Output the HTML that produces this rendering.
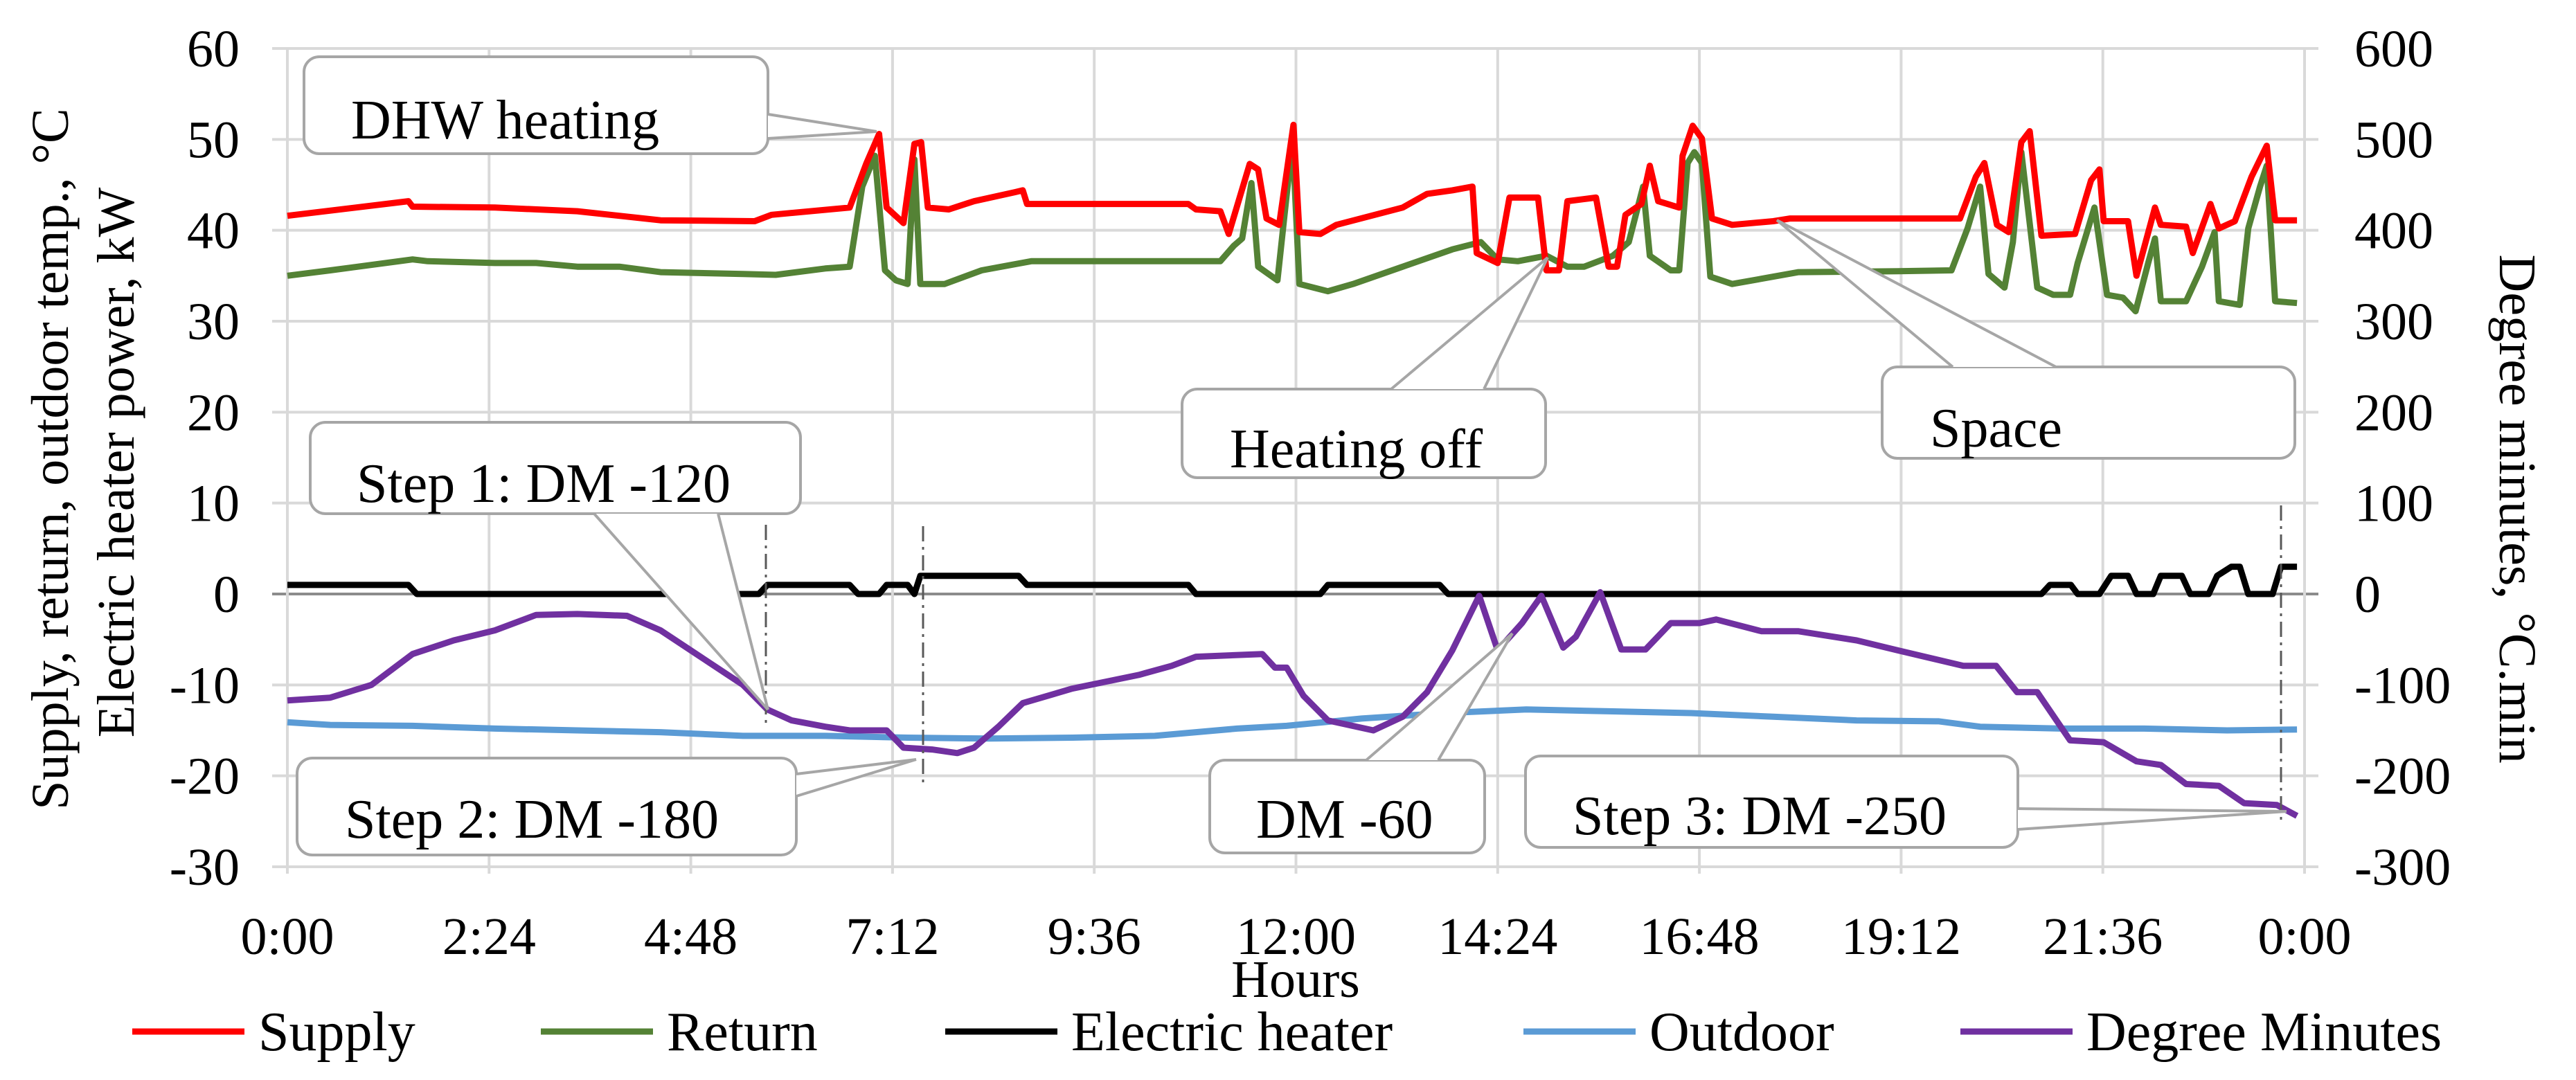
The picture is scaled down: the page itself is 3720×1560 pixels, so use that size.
<!DOCTYPE html>
<html><head><meta charset="utf-8"><style>
html,body{margin:0;padding:0;background:#fff;}
svg{display:block;}
svg text{font-family:"Liberation Serif","DejaVu Serif",serif;}
</style></head><body>
<svg id="chart" width="3720" height="1560" viewBox="0 0 3720 1560" xmlns="http://www.w3.org/2000/svg" font-family="Liberation Serif, serif">
<rect width="3720" height="1560" fill="#fff"/>
<g id="grid"></g>
<g id="series"></g>
<g id="notes"></g>
<g id="axes"></g>
</svg>
<script>
const supplyT=[0,1.44,1.49,2.47,3.45,4.44,5.56,5.76,6.69,6.89,7.04,7.13,7.33,7.46,7.54,7.62,7.87,8.17,8.66,8.75,8.8,10.72,10.81,11.1,11.2,11.45,11.55,11.65,11.8,11.97,12.04,12.29,12.48,13.27,13.56,13.86,14.1,14.15,14.4,14.54,14.88,14.98,15.13,15.23,15.57,15.72,15.82,15.92,16.11,16.21,16.31,16.56,16.6,16.72,16.83,16.95,17.19,17.68,17.88,19.9,20.09,20.19,20.34,20.48,20.63,20.73,20.87,21.27,21.46,21.56,21.61,21.9,22.0,22.22,22.29,22.59,22.67,22.88,22.98,23.17,23.37,23.55,23.65,23.91];
const supplyV=[41.6,43.2,42.6,42.5,42.1,41.1,41,41.7,42.5,47.4,50.6,42.5,40.8,49.5,49.7,42.5,42.3,43.2,44.2,44.4,42.9,42.9,42.3,42.1,39.6,47.3,46.7,41.3,40.6,51.6,39.8,39.6,40.6,42.5,44,44.4,44.8,37.5,36.4,43.6,43.6,35.6,35.6,43.2,43.6,36,36,41.7,42.9,47.1,43.2,42.5,48.2,51.5,50.1,41.3,40.6,41,41.3,41.3,45.9,47.4,40.6,39.8,49.7,50.9,39.4,39.6,45.5,46.7,41,41,35,42.5,40.6,40.4,37.5,42.9,40.2,41,45.9,49.3,41.1,41.1];
const returnT=[0,0.51,1.49,1.67,2.47,2.96,3.45,3.95,4.44,5.42,5.81,6.4,6.69,6.84,6.99,7.11,7.24,7.38,7.46,7.53,7.82,8.26,8.85,9.34,10.32,11.1,11.26,11.36,11.47,11.55,11.78,11.96,12.04,12.38,12.68,13.27,13.86,14.2,14.4,14.64,14.98,15.23,15.43,15.77,15.96,16.13,16.21,16.46,16.56,16.66,16.74,16.83,16.93,17.19,17.68,17.98,19.16,19.8,19.99,20.14,20.24,20.43,20.53,20.63,20.82,21.01,21.21,21.3,21.5,21.65,21.84,21.99,22.14,22.22,22.29,22.59,22.78,22.93,22.98,23.23,23.33,23.47,23.55,23.65,23.91];
const returnV=[35,35.6,36.8,36.6,36.4,36.4,36,36,35.4,35.2,35.1,35.8,36,44.8,48.2,35.6,34.5,34.1,47.8,34.1,34.1,35.6,36.6,36.6,36.6,36.6,38.3,39.1,45.2,36,34.5,49.9,34.1,33.3,34.1,36,37.9,38.7,36.8,36.6,37.2,36,36,37.2,38.7,44.8,37.2,35.6,35.6,47.4,48.6,47.4,34.9,34.1,34.9,35.4,35.5,35.6,40.2,44.8,35.2,33.7,38.7,48.6,33.7,32.9,32.9,36.4,42.5,32.9,32.6,31.1,36.4,39.1,32.2,32.2,36,39.8,32.2,31.8,40.2,44.8,47.1,32.2,32];
const heaterT=[0,1.44,1.54,5.61,5.71,6.69,6.79,7.04,7.13,7.38,7.46,7.53,8.7,8.8,10.72,10.81,12.29,12.38,13.71,13.81,20.87,20.97,21.22,21.3,21.56,21.7,21.9,22.0,22.2,22.29,22.54,22.64,22.86,22.96,23.13,23.23,23.33,23.62,23.72,23.91];
const heaterV=[1,1,0,0,1,1,0,0,1,1,0,2,2,1,1,0,0,1,1,0,0,1,1,0,0,2,2,0,0,2,2,0,0,2,3,3,0,0,3,3];
const outdoorT=[0,0.51,1.49,2.47,3.45,4.44,5.42,6.4,7.38,8.36,9.34,10.32,11.3,11.89,12.78,13.76,14.74,15.72,16.7,17.68,18.67,19.65,20.14,21.11,22.09,23.08,23.91];
const outdoorV=[-14.1,-14.4,-14.5,-14.8,-15.0,-15.2,-15.6,-15.6,-15.8,-15.9,-15.8,-15.6,-14.8,-14.5,-13.7,-13.1,-12.7,-12.9,-13.1,-13.5,-13.9,-14.0,-14.6,-14.8,-14.8,-15.0,-14.9];
const dmT=[0,0.51,1.0,1.49,1.98,2.47,2.96,3.45,4.04,4.44,4.93,5.42,5.71,6.0,6.4,6.69,7.13,7.33,7.67,7.97,8.17,8.46,8.75,9.34,10.13,10.52,10.81,11.6,11.75,11.89,12.09,12.38,12.92,13.27,13.56,13.86,14.18,14.4,14.69,14.92,15.18,15.33,15.62,15.87,16.16,16.46,16.8,17.0,17.54,17.98,18.67,19.16,19.94,20.33,20.58,20.82,21.21,21.61,22.0,22.29,22.59,22.98,23.28,23.67,23.91];
const dmV=[-117,-114,-100,-66,-51,-40,-23,-22,-24,-40,-70,-100,-127,-139,-146,-150,-150,-169,-171,-175,-169,-146,-120,-104,-89,-79,-69,-66,-81,-81,-112,-139,-150,-135,-108,-62,-2,-62,-32,-2,-59,-47,2,-61,-61,-32,-32,-28,-41,-41,-51,-62,-79,-79,-108,-108,-161,-163,-184,-188,-209,-211,-230,-232,-244];
const leftTicks=[60,50,40,30,20,10,0,-10,-20,-30];
const rightTicks=[600,500,400,300,200,100,0,-100,-200,-300];
const xTickLabels=["0:00","2:24","4:48","7:12","9:36","12:00","14:24","16:48","19:12","21:36","0:00"];

const NS="http://www.w3.org/2000/svg";
const FONT='"Liberation Serif", "DejaVu Serif", serif';
const X0=415,X1=3328,YT=70,YB=1252;
const xs=h=>X0+(X1-X0)*h/24;
const yL=v=>YT+(60-v)*(YB-YT)/90;
const yR=v=>YT+(600-v)*(YB-YT)/900;
function mk(tag,attrs,parent,txt){const e=document.createElementNS(NS,tag);for(const k in attrs)e.setAttribute(k,attrs[k]);if(txt!==undefined){e.textContent=txt;e.setAttribute('font-family',FONT);}parent.appendChild(e);return e;}
const grid=document.getElementById('grid'),axes=document.getElementById('axes'),ser=document.getElementById('series'),notes=document.getElementById('notes');

for(let i=0;i<leftTicks.length;i++){
  const y=yL(leftTicks[i]);
  const l=mk('line',{x1:393,x2:3348,y1:y,y2:y,stroke:leftTicks[i]===0?'#8c8c8c':'#d9d9d9','stroke-width':4},grid);
  
  
  const t=mk('text',{x:346,y:y+26,'text-anchor':'end','font-size':76},axes,String(leftTicks[i]));
  
  
  const r=mk('text',{x:3400,y:yR(rightTicks[i])+26,'font-size':76},axes,String(rightTicks[i]));
  
  
}
for(let i=0;i<xTickLabels.length;i++){
  const x=xs(i*2.4);
  const l=mk('line',{x1:x,x2:x,y1:YT,y2:YB+10,stroke:'#d9d9d9','stroke-width':4},grid);
  
  
  const t=mk('text',{x:x,y:1378,'text-anchor':'middle','font-size':76},axes,xTickLabels[i]);
  
  
}
function line(T,V,yf,color,name){
  let d='';
  for(let i=0;i<T.length;i++){d+=(i?'L':'M')+xs(T[i]).toFixed(1)+','+yf(V[i]).toFixed(1);}
  const p=mk('path',{d:d,fill:'none',stroke:color,'stroke-width':9,'stroke-linejoin':'round'},ser);
  
  
}
line(outdoorT,outdoorV,yL,'#5b9bd5','outdoor-line');
line(heaterT,heaterV,yL,'#000000','electric-heater-line');
line(dmT,dmV,yR,'#7030a0','degree-minutes-line');
line(returnT,returnV,yL,'#548235','return-line');
line(supplyT,supplyV,yL,'#ff0000','supply-line');

[[1106,758,1045],[1333,760,1130],[3294,730,1185]].forEach(a=>{
  const l=mk('line',{x1:a[0],x2:a[0],y1:a[1],y2:a[2],stroke:'#595959','stroke-width':3,'stroke-dasharray':'22,8,4,8'},notes);
  
  
});
function callout(name,bx,by,bw,bh,p1,p2,tip,text,tx,ty){
  const g=mk('g',{},notes);
  
  
  mk('rect',{x:bx,y:by,width:bw,height:bh,rx:22,fill:'#fff',stroke:'#a6a6a6','stroke-width':4},g);
  mk('polygon',{points:p1[0]+','+p1[1]+' '+tip[0]+','+tip[1]+' '+p2[0]+','+p2[1],fill:'#fff',stroke:'none'},g);
  mk('line',{x1:p1[0],y1:p1[1],x2:tip[0],y2:tip[1],stroke:'#a6a6a6','stroke-width':4},g);
  mk('line',{x1:p2[0],y1:p2[1],x2:tip[0],y2:tip[1],stroke:'#a6a6a6','stroke-width':4},g);
  mk('text',{x:tx,y:ty,'font-size':80},g,text);
}
callout('dhw-heating-callout',439,82,670,140,[1109,165],[1109,200],[1266,190],'DHW heating',507,200);
callout('step1-callout',448,610,708,132,[858,742],[1037,742],[1109,1025],'Step 1: DM -120',515,725);
callout('step2-callout',429,1095,721,140,[1150,1118],[1150,1150],[1323,1097],'Step 2: DM -180',498,1210);
callout('heating-off-callout',1707,562,525,128,[2009,562],[2143,562],[2235,372],'Heating off',1776,675);
callout('space-callout',2718,530,596,132,[2820,530],[2969,530],[2566,318],'Space',2787,645);
callout('dm60-callout',1747,1098,397,134,[1973,1098],[2077,1098],[2184,915],'DM -60',1814,1210);
callout('step3-callout',2203,1092,711,132,[2914,1168],[2914,1198],[3302,1172],'Step 3: DM -250',2271,1205);

let t=mk('text',{x:0,y:0,'font-size':76,'text-anchor':'middle',transform:'translate(98,663) rotate(-90)'},axes,'Supply, return, outdoor temp., °C');


t=mk('text',{x:0,y:0,'font-size':76,'text-anchor':'middle',transform:'translate(193,668) rotate(-90)'},axes,'Electric heater power, kW');


t=mk('text',{x:0,y:0,'font-size':76,'text-anchor':'middle',transform:'translate(3610,735) rotate(90)'},axes,'Degree minutes, °C.min');


t=mk('text',{x:1871,y:1440,'font-size':76,'text-anchor':'middle'},axes,'Hours');



const legNames=['Supply','Return','Electric heater','Outdoor','Degree Minutes'];
const legColors=['#ff0000','#548235','#000000','#5b9bd5','#7030a0'];
const legX=[191,781,1365,2200,2831];
for(let i=0;i<legNames.length;i++){
  const g=mk('g',{},axes);
  
  
  mk('line',{x1:legX[i],x2:legX[i]+162,y1:1490,y2:1490,stroke:legColors[i],'stroke-width':9},g);
  mk('text',{x:legX[i]+182,y:1517,'font-size':80},g,legNames[i]);
}
</script>
</body></html>
